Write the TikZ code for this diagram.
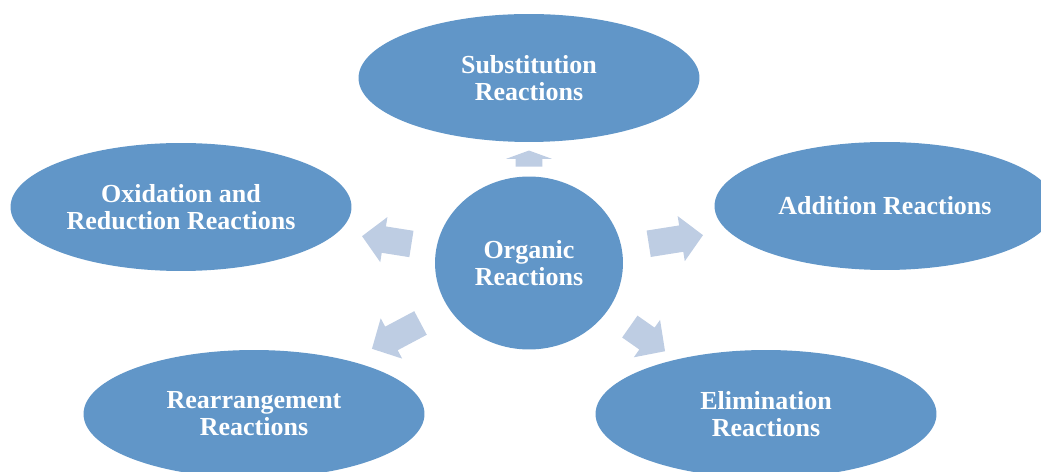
\documentclass[tikz,border=0pt]{standalone}
\usepackage{fontspec}
\setmainfont{Liberation Serif}
\usetikzlibrary{shapes.geometric,shapes.arrows,calc}
\definecolor{nodeblue}{RGB}{97,150,200}
\definecolor{arrowblue}{RGB}{190,205,227}

\begin{document}
\begin{tikzpicture}[x=0.02cm, y=-0.02cm,
    main/.style = {ellipse, fill=nodeblue, text=white, align=center, inner sep=0pt,
                   font=\bfseries\fontsize{14.8}{15.4}\selectfont,
                   minimum width=6.82cm, minimum height=2.56cm},
    blk/.style = {single arrow, fill=arrowblue, inner sep=0pt, text width=0pt,
                  text height=0.26cm, text depth=0.26cm,
                  single arrow head extend=0.19cm, single arrow tip angle=92}]
    \useasboundingbox (0,0) rectangle (1041,472);
    \clip (0,0) rectangle (1041,472);
    \node[main, minimum width=3.76cm, minimum height=3.46cm] (org) at (529,263) {Organic\\Reactions};
    \node[main] (sub) at (529,78) {Substitution\\Reactions};
    \node[main] (oxi) at (181,207) {Oxidation and\\Reduction Reactions};
    \node[main] (add) at (885,206) {Addition Reactions};
    \node[main] (rea) at (254,414) {Rearrangement\\Reactions};
    \node[main] (eli) at (766,414) {Elimination\\Reactions};
    % block arrows between the centre and the outer ellipses
    \node[blk, rotate=90, minimum height=0.32cm, single arrow tip angle=140] (a1) at ($(org.north)!0.45!(sub.south)$) {};
    \node[blk, rotate=9, minimum height=1.1cm] (a2) at ($(org.9)!0.45!(add.189)$) {};
    \node[blk, rotate=171, minimum height=1.0cm] (a3) at ($(org.171)!0.44!(oxi.351)$) {};
    \node[blk, rotate=208, minimum height=1.1cm] (a4) at ($(org.208)!0.48!(rea.28)$) {};
    \node[blk, rotate=-35, minimum height=0.86cm] (a5) at ($(org.-35)!0.47!(eli.145)$) {};
\end{tikzpicture}
\end{document}
